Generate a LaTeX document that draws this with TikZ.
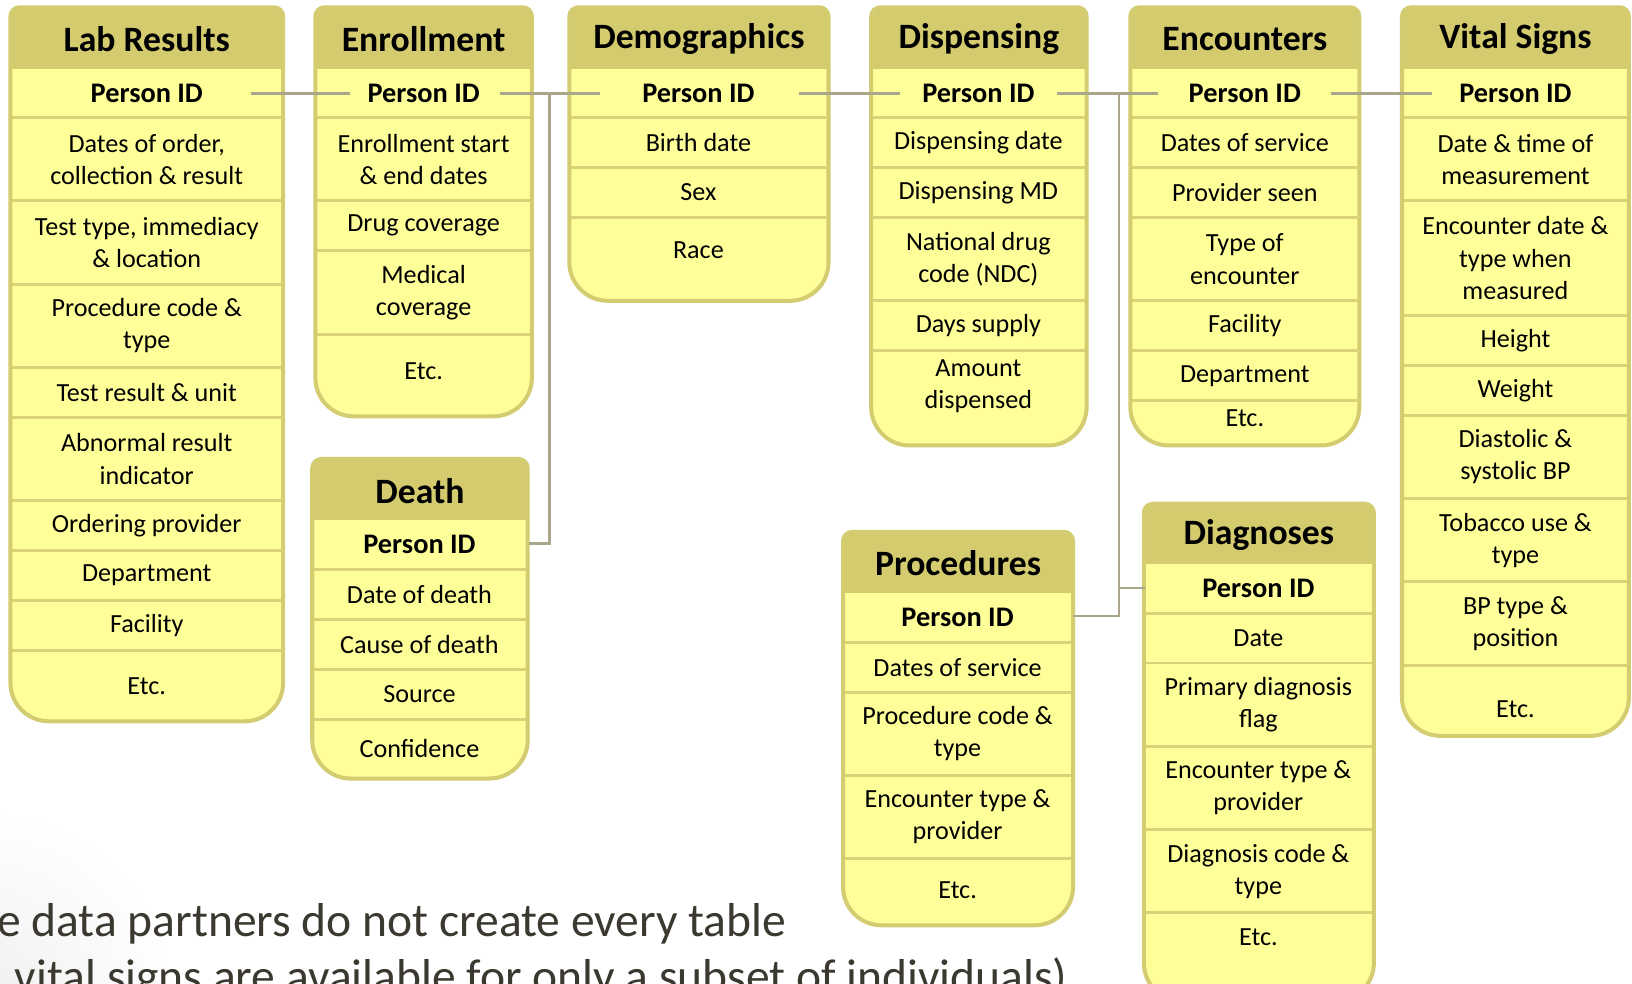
\documentclass[tikz,border=0pt]{standalone}
\usepackage{fontspec}
\setmainfont{Carlito}
\definecolor{hdrfill}{HTML}{D3CB6E}
\definecolor{bodyfill}{HTML}{FFFF99}
\definecolor{edgecol}{HTML}{D4CC70}
\definecolor{rulecol}{HTML}{DAD278}
\definecolor{wirecol}{HTML}{A9A68C}
\definecolor{notecol}{HTML}{3B382F}

\tikzset{
  hdrtext/.style={font=\fontsize{19.5}{23}\selectfont\bfseries, inner sep=0pt},
  keytext/.style={font=\fontsize{15.5}{18}\selectfont\bfseries, inner sep=0pt},
  celltext/.style={font=\fontsize{14.3}{17.6}\selectfont, align=center, inner sep=0pt},
  notetext/.style={font=\fontsize{26}{31}\selectfont, text=notecol, inner sep=0pt, anchor=base west},
  wire/.style={draw=wirecol, line width=1.4pt},
  rowrule/.style={draw=rulecol, line width=1.6pt},
  tableedge/.style={draw=edgecol, line width=2.2pt},
}

% #1 name, #2 left, #3 right, #4 top, #5 header bottom, #6 bottom,
% #7 title, #8 row separators
\newcommand\dbtable[8]{%
  \fill[bodyfill] (#2,{(#4+#6)/2}) [rounded corners=21pt] -- (#2,#6) -- (#3,#6)
     -- (#3,{(#4+#6)/2}) [rounded corners=5pt] -- (#3,#4) -- (#2,#4) -- cycle;
  \begin{scope}
    \clip (#2,{(#4+#6)/2}) [rounded corners=21pt] -- (#2,#6) -- (#3,#6)
       -- (#3,{(#4+#6)/2}) [rounded corners=5pt] -- (#3,#4) -- (#2,#4) -- cycle;
    \fill[hdrfill] (#2-5,#4-5) rectangle (#3+5,#5);
  \end{scope}
  \foreach \s in {#8} \draw[rowrule] (#2+2,\s) -- (#3-2,\s);
  \draw[tableedge] (#2,{(#4+#6)/2}) [rounded corners=21pt] -- (#2,#6) -- (#3,#6)
     -- (#3,{(#4+#6)/2}) [rounded corners=5pt] -- (#3,#4) -- (#2,#4) -- cycle;
  \node[hdrtext] (#1-h) at ({(#2+#3)/2},{(#4+#5)/2+1}) {#7};
}

\begin{document}
\begin{tikzpicture}[x=0.02cm, y=-0.02cm]
\useasboundingbox (0,0) rectangle (1568,945);
\clip (0,0) rectangle (1568,945);
\fill[white] (0,0) rectangle (1568,945);
% soft shading in the lower left corner of the slide
\shade[inner color=black!6, outer color=white] (-20,965) circle (190);

% ---------------- Lab Results
\dbtable{lab}{10}{272}{7}{66}{693}{Lab Results}{113,193,273,353,401,481,529,577,625}
\node[keytext]  (lab-1)  at (141,90)  {Person ID};
\node[celltext] (lab-2)  at (141,153) {Dates of order,\\collection \& result};
\node[celltext] (lab-3)  at (141,233) {Test type, immediacy\\\& location};
\node[celltext] (lab-4)  at (141,313) {Procedure code \&\\type};
\node[celltext] (lab-5)  at (141,377) {Test result \& unit};
\node[celltext] (lab-6)  at (141,441) {Abnormal result\\indicator};
\node[celltext] (lab-7)  at (141,505) {Ordering provider};
\node[celltext] (lab-8)  at (141,553) {Department};
\node[celltext] (lab-9)  at (141,601) {Facility};
\node[celltext] (lab-10) at (141,659) {Etc.};

% ---------------- Enrollment
\dbtable{enr}{303}{511}{7}{66}{400}{Enrollment}{113,193,241,321}
\node[keytext]  (enr-1) at (407,90)  {Person ID};
\node[celltext] (enr-2) at (407,153) {Enrollment start\\\& end dates};
\node[celltext] (enr-3) at (407,217) {Drug coverage};
\node[celltext] (enr-4) at (407,281) {Medical\\coverage};
\node[celltext] (enr-5) at (407,357) {Etc.};

% ---------------- Demographics
\dbtable{dem}{547}{796}{7}{66}{289}{Demographics}{113,161,209}
\node[keytext]  (dem-1) at (671,90)  {Person ID};
\node[celltext] (dem-2) at (671,137) {Birth date};
\node[celltext] (dem-3) at (671,185) {Sex};
\node[celltext] (dem-4) at (671,240) {Race};

% ---------------- Dispensing
\dbtable{dsp}{837}{1044}{7}{66}{428}{Dispensing}{113,161,209,289,337}
\node[keytext]  (dsp-1) at (940,90)  {Person ID};
\node[celltext] (dsp-2) at (940,137) {Dispensing date};
\node[celltext] (dsp-3) at (940,185) {Dispensing MD};
\node[celltext] (dsp-4) at (940,249) {National drug\\code (NDC)};
\node[celltext] (dsp-5) at (940,313) {Days supply};
\node[celltext] (dsp-6) at (940,371) {Amount\\dispensed};

% ---------------- Encounters
\dbtable{enc}{1086}{1306}{7}{66}{428}{Encounters}{113,161,209,289,337,385}
\node[keytext]  (enc-1) at (1196,90)  {Person ID};
\node[celltext] (enc-2) at (1196,137) {Dates of service};
\node[celltext] (enc-3) at (1196,185) {Provider seen};
\node[celltext] (enc-4) at (1196,249) {Type of\\encounter};
\node[celltext] (enc-5) at (1196,313) {Facility};
\node[celltext] (enc-6) at (1196,361) {Department};
\node[celltext] (enc-7) at (1196,402) {Etc.};

% ---------------- Vital Signs
\dbtable{vit}{1347}{1565}{7}{66}{707}{Vital Signs}{113,193,303,351,399,479,559,639}
\node[keytext]  (vit-1) at (1456,90)  {Person ID};
\node[celltext] (vit-2) at (1456,153) {Date \& time of\\measurement};
\node[celltext] (vit-3) at (1456,248) {Encounter date \&\\type when\\measured};
\node[celltext] (vit-4) at (1456,327) {Height};
\node[celltext] (vit-5) at (1456,375) {Weight};
\node[celltext] (vit-6) at (1456,439) {Diastolic \&\\systolic BP};
\node[celltext] (vit-7) at (1456,519) {Tobacco use \&\\type};
\node[celltext] (vit-8) at (1456,599) {BP type \&\\position};
\node[celltext] (vit-9) at (1456,681) {Etc.};

% ---------------- Death
\dbtable{dth}{300}{507}{441}{500}{748}{Death}{547,595,643,691}
\node[keytext]  (dth-1) at (403,523) {Person ID};
\node[celltext] (dth-2) at (403,571) {Date of death};
\node[celltext] (dth-3) at (403,619) {Cause of death};
\node[celltext] (dth-4) at (403,667) {Source};
\node[celltext] (dth-5) at (403,719) {Confidence};

% ---------------- Procedures
\dbtable{prc}{810}{1031}{511}{570}{889}{Procedures}{617,665,745,825}
\node[keytext]  (prc-1) at (920,593) {Person ID};
\node[celltext] (prc-2) at (920,641) {Dates of service};
\node[celltext] (prc-3) at (920,705) {Procedure code \&\\type};
\node[celltext] (prc-4) at (920,785) {Encounter type \&\\provider};
\node[celltext] (prc-5) at (920,855) {Etc.};

% ---------------- Diagnoses
\dbtable{dgn}{1099}{1320}{484}{542}{962}{Diagnoses}{589,637,717,797,877}
\node[keytext]  (dgn-1) at (1209,565) {Person ID};
\node[celltext] (dgn-2) at (1209,613) {Date};
\node[celltext] (dgn-3) at (1209,677) {Primary diagnosis\\flag};
\node[celltext] (dgn-4) at (1209,757) {Encounter type \&\\provider};
\node[celltext] (dgn-5) at (1209,837) {Diagnosis code \&\\type};
\node[celltext] (dgn-6) at (1209,900) {Etc.};

% ---------------- Person ID links
\coordinate (lab-out) at (241,90);
\coordinate (enr-in)  at (336,90);
\coordinate (enr-out) at (480,90);
\coordinate (hub-a)   at (528,90);
\coordinate (dem-in)  at (576,90);
\coordinate (dem-out) at (768,90);
\coordinate (dsp-in)  at (865,90);
\coordinate (dsp-out) at (1016,90);
\coordinate (hub-b)   at (1075,90);
\coordinate (enc-in)  at (1113,90);
\coordinate (enc-out) at (1279,90);
\coordinate (vit-in)  at (1376,90);
\coordinate (dth-out) at (508,522);
\coordinate (prc-out) at (1031,592);
\coordinate (dgn-in)  at (1100,565);

\draw[wire] (lab-out) -- (enr-in);
\draw[wire] (enr-out) -- (dem-in);
\draw[wire] (dth-out) -| (hub-a);
\draw[wire] (dem-out) -- (dsp-in);
\draw[wire] (dsp-out) -- (enc-in);
\draw[wire] (prc-out) -| (hub-b);
\draw[wire] (dgn-in) -- (dgn-in -| hub-b);
\draw[wire] (enc-out) -- (vit-in);

% ---------------- Slide text
\node[notetext] (note-1) at (-3,900) {e data partners do not create every table};
\node[notetext] (note-2) at (14,954) {vital signs are available for only a subset of individuals)};
\end{tikzpicture}
\end{document}
